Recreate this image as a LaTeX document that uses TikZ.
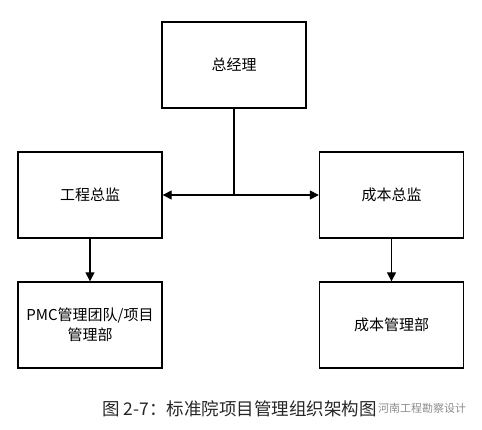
\documentclass[tikz,border=0pt]{standalone}
\usepackage{fontspec}
\setmainfont{Noto Sans CJK SC}
\usetikzlibrary{arrows.meta}
\begin{document}
\begin{tikzpicture}[x=1pt,y=-1pt,
 orgbox/.style={draw,line width=1.4pt,minimum width=144pt,minimum height=86pt,inner sep=2pt,align=center,font=\fontsize{15}{19.5}\selectfont},
 orgline/.style={line width=1.4pt},
 orgarrow/.style={line width=1.4pt,-{Triangle[length=9pt,width=9pt]}}]
 \useasboundingbox (0,0) rectangle (482,430);
 \node [orgbox] (zjl) at (234,65) {总经理};
 \node [orgbox] (gczj) at (90,195) {工程总监};
 \node [orgbox] (cbzj) at (391.5,195) {成本总监};
 \node [orgbox] (pmc) at (90,325) {PMC管理团队/项目\\管理部};
 \node [orgbox] (cbgl) at (391.5,325) {成本管理部};
 \coordinate (mid) at (zjl.south |- gczj.east);
 \draw [orgline] (zjl.south) -- (mid);
 \draw [orgarrow] (mid) -- (gczj.east);
 \draw [orgarrow] (mid) -- (cbzj.west);
 \draw [orgarrow] (gczj.south) -- (pmc.north);
 \draw [orgarrow] (cbzj.south) -- (cbgl.north);
 % caption
 \node [anchor=west,inner sep=0pt,font=\fontsize{17.5}{20}\selectfont,text=black!85] (cap) at (102,409) {图 2-7：标准院项目管理组织架构图};
 \node [anchor=west,inner sep=0pt,font=\fontsize{11}{13}\selectfont,text=black!45] (wm) at (378,408) {河南工程勘察设计};
\end{tikzpicture}
\end{document}
